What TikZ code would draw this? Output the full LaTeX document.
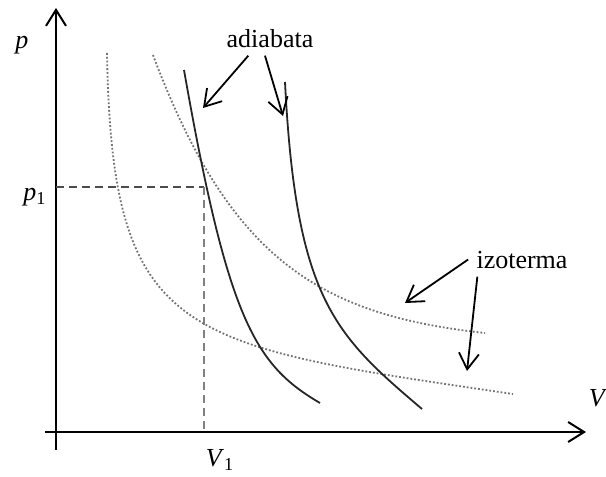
\documentclass[tikz,border=0pt]{standalone}
\usepackage{fontspec}
\setmainfont{Liberation Serif}
\usetikzlibrary{arrows.meta}

\begin{document}
\begin{tikzpicture}[x=0.5pt, y=-0.5pt, >={Straight Barb[length=8pt, width=10pt]},
    font=\fontsize{13}{15}\selectfont,
    axis/.style={->, line width=1pt},
    adiabat/.style={line width=0.9pt, black!85},
    izoterm/.style={densely dotted, line width=0.9pt, black!55},
    guide/.style={dash pattern=on 4pt off 2.5pt, line width=0.8pt, black!70},
    label/.style={inner sep=4pt, anchor=base}]
    \useasboundingbox (0,0) rectangle (606,477);
    % 坐标轴
    \coordinate (Ybot) at (56,450);
    \coordinate (Ytop) at (56,8);
    \coordinate (Xleft) at (45,432);
    \coordinate (Xright) at (586,432);
    \draw[axis] (Ybot) -- (Ytop);
    \draw[axis] (Xleft) -- (Xright);
    \node (p) at (22,45) {\textit{p}};
    \node (V) at (598,398) {\textit{V}};
    % 点 (V1, p1)
    \coordinate (P1) at (204,187);
    \coordinate (P1y) at (56,187);
    \coordinate (V1x) at (204,432);
    \draw[guide] (P1y) -- (P1);
    \draw[guide, line width=1.1pt, black!50] (P1) -- (V1x);
    \node (p1) at (35,197) {\textit{p}\textsubscript{1}};
    \node (V1) at (220,460) {\textit{V}\textsubscript{1}};
    % 等温线
    \draw[izoterm] (153,55) .. controls (230,260) and (320,315) .. (485,333);
    \draw[izoterm] (107,53) .. controls (112,340) and (180,345) .. (513,394);
    % 绝热线
    \draw[adiabat] (184,70) .. controls (228,320) and (255,365) .. (320,403);
    \draw[adiabat] (285,82) .. controls (296,300) and (335,335) .. (422,409);
    % 标注
    \node[label] (adiab) at (270,47) {adiabata};
    \node[label] (izot) at (522,268) {izoterma};
    \coordinate (a1) at (203,108);
    \coordinate (a2) at (283,116);
    \coordinate (i1) at (405,303);
    \coordinate (i2) at (467,371);
    \draw[->, line width=0.9pt] (adiab.219) -- (a1);
    \draw[->, line width=0.9pt] (adiab.254) -- (a2);
    \draw[->, line width=0.9pt] (izot.west) -- (i1);
    \draw[->, line width=0.9pt] (izot.201) -- (i2);
\end{tikzpicture}
\end{document}
